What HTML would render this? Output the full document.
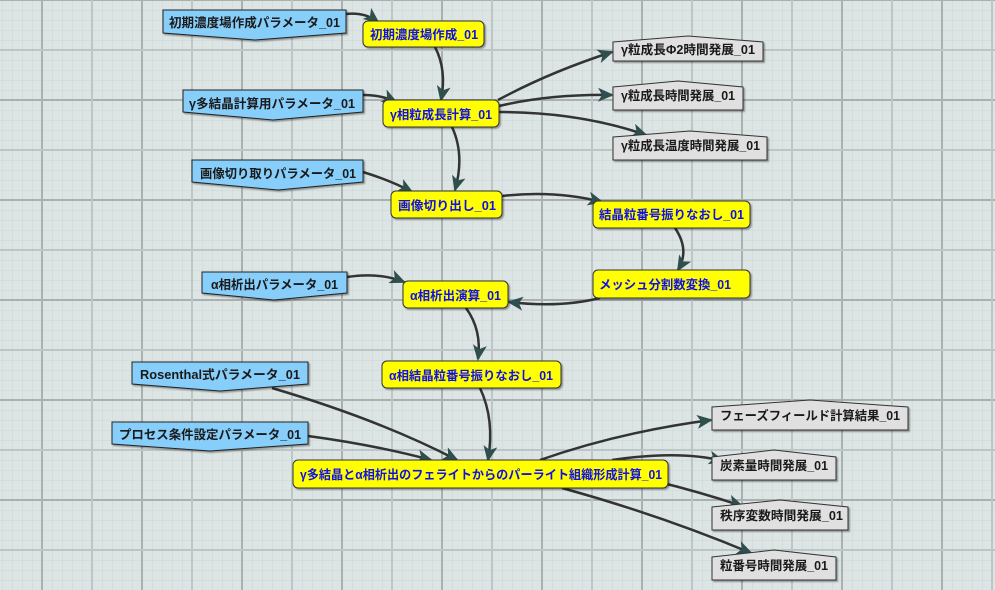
<!DOCTYPE html>
<html><head><meta charset="utf-8"><style>
html,body{margin:0;padding:0;width:995px;height:590px;overflow:hidden;background:#dce4e4}
svg{display:block}
text{font-family:"Liberation Sans","Noto Sans CJK JP",sans-serif;font-weight:bold;font-size:12.5px}
.p{fill:#87cefa;stroke:#222;stroke-width:1}
.y{fill:#ffff00;stroke:#333;stroke-width:1}
.g{fill:#e0e0e0;stroke:#333;stroke-width:1}
.tb{fill:#1a1a1a}
.ty{fill:#1010e8}
.e{fill:none;stroke:#333;stroke-width:2.5}
</style></head><body>
<svg width="995" height="590" viewBox="0 0 995 590" xmlns="http://www.w3.org/2000/svg">
<defs>
<pattern id="minor" width="10" height="10" patternUnits="userSpaceOnUse" x="2" y="0">
<path d="M0 0V10M0 0H10" stroke="#cbd6d6" stroke-width="1" fill="none"/>
</pattern>
<marker id="a" viewBox="0 0 16 14" refX="14" refY="7" markerWidth="16" markerHeight="14" markerUnits="userSpaceOnUse" orient="auto">
<path d="M0 0 L16 7 L0 14 L4 7 Z" fill="#2f4f4f"/>
</marker>
<filter id="sh" x="-5%" y="-20%" width="110%" height="150%"><feDropShadow dx="1.5" dy="1.5" stdDeviation="0.8" flood-color="#000" flood-opacity="0.35"/></filter>
</defs>
<rect width="995" height="590" fill="#dce4e4"/>
<rect width="995" height="590" fill="url(#minor)"/>
<g stroke-width="2">
<g stroke="#a8b0b0">
<line x1="42" y1="0" x2="42" y2="590"/><line x1="142" y1="0" x2="142" y2="590"/><line x1="242" y1="0" x2="242" y2="590"/><line x1="342" y1="0" x2="342" y2="590"/><line x1="442" y1="0" x2="442" y2="590"/><line x1="542" y1="0" x2="542" y2="590"/><line x1="642" y1="0" x2="642" y2="590"/><line x1="742" y1="0" x2="742" y2="590"/><line x1="842" y1="0" x2="842" y2="590"/><line x1="942" y1="0" x2="942" y2="590"/>
<line x1="0" y1="0" x2="995" y2="0"/><line x1="0" y1="100" x2="995" y2="100"/><line x1="0" y1="200" x2="995" y2="200"/><line x1="0" y1="300" x2="995" y2="300"/><line x1="0" y1="400" x2="995" y2="400"/><line x1="0" y1="500" x2="995" y2="500"/>
</g>
<g stroke="#bcc6c6">
<line x1="92" y1="0" x2="92" y2="590"/><line x1="192" y1="0" x2="192" y2="590"/><line x1="292" y1="0" x2="292" y2="590"/><line x1="392" y1="0" x2="392" y2="590"/><line x1="492" y1="0" x2="492" y2="590"/><line x1="592" y1="0" x2="592" y2="590"/><line x1="692" y1="0" x2="692" y2="590"/><line x1="792" y1="0" x2="792" y2="590"/><line x1="892" y1="0" x2="892" y2="590"/><line x1="992" y1="0" x2="992" y2="590"/>
<line x1="0" y1="50" x2="995" y2="50"/><line x1="0" y1="150" x2="995" y2="150"/><line x1="0" y1="250" x2="995" y2="250"/><line x1="0" y1="350" x2="995" y2="350"/><line x1="0" y1="450" x2="995" y2="450"/><line x1="0" y1="550" x2="995" y2="550"/>
</g>
</g>

<g class="e" marker-end="url(#a)">
<path d="M346 14 Q365 12 378 22"/>
<path d="M435 47 Q447 70 441 100"/>
<path d="M363 95 Q382 95 396 102"/>
<path d="M498 100 Q550 72 612 52"/>
<path d="M499 106 Q550 94 612 95"/>
<path d="M499 112 Q580 112 646 135"/>
<path d="M452 127 Q465 155 455 190"/>
<path d="M363 172 Q392 181 412 192"/>
<path d="M502 196 Q555 190 602 202"/>
<path d="M675 228 Q690 250 678 270"/>
<path d="M600 298 Q560 308 509 302"/>
<path d="M347 277 Q380 272 404 282"/>
<path d="M466 308 Q482 330 478 359"/>
<path d="M480 388 Q495 420 488 460"/>
<path d="M272 388 Q380 420 457 460"/>
<path d="M308 436 Q375 445 431 460"/>
<path d="M540 460 Q620 432 711 420"/>
<path d="M612 460 Q680 450 723 461"/>
<path d="M655 481 Q700 492 742 506"/>
<path d="M562 488 Q660 515 751 553"/>
</g>

<g filter="url(#sh)">
<path class="p" d="M163 10H346V33L255 40L163 33Z"/>
<path class="p" d="M183 90H363V112L273 120L183 112Z"/>
<path class="p" d="M192 160H363V182L278 190L192 182Z"/>
<path class="p" d="M202 272H347V293L274 300L202 293Z"/>
<path class="p" d="M132 362H308V384L220 391L132 384Z"/>
<path class="p" d="M112 422H308V444L210 451L112 444Z"/>
</g>
<g lengthAdjust="spacingAndGlyphs">
<text class="tb" x="169" y="27" textLength="171" lengthAdjust="spacingAndGlyphs">初期濃度場作成パラメータ_01</text>
<text class="tb" x="189" y="108" textLength="166" lengthAdjust="spacingAndGlyphs">γ多結晶計算用パラメータ_01</text>
<text class="tb" x="200" y="178" textLength="156" lengthAdjust="spacingAndGlyphs">画像切り取りパラメータ_01</text>
<text class="tb" x="211" y="289" textLength="127" lengthAdjust="spacingAndGlyphs">α相析出パラメータ_01</text>
<text class="tb" x="140" y="379" textLength="160" lengthAdjust="spacingAndGlyphs">Rosenthal式パラメータ_01</text>
<text class="tb" x="119" y="439" textLength="182" lengthAdjust="spacingAndGlyphs">プロセス条件設定パラメータ_01</text>
</g>

<g filter="url(#sh)">
<rect class="y" x="363" y="21" width="121" height="26" rx="5"/>
<rect class="y" x="383" y="100" width="116" height="27" rx="5"/>
<rect class="y" x="391" y="191" width="111" height="27" rx="5"/>
<rect class="y" x="593" y="201" width="157" height="27" rx="5"/>
<rect class="y" x="593" y="270" width="157" height="28" rx="5"/>
<rect class="y" x="403" y="281" width="105" height="27" rx="5"/>
<rect class="y" x="382" y="361" width="179" height="27" rx="5"/>
<rect class="y" x="293" y="460" width="375" height="28" rx="5"/>
</g>
<text class="ty" x="370" y="39" textLength="108" lengthAdjust="spacingAndGlyphs">初期濃度場作成_01</text>
<text class="ty" x="390" y="119" textLength="102" lengthAdjust="spacingAndGlyphs">γ相粒成長計算_01</text>
<text class="ty" x="398" y="210" textLength="98" lengthAdjust="spacingAndGlyphs">画像切り出し_01</text>
<text class="ty" x="599" y="219" textLength="145" lengthAdjust="spacingAndGlyphs">結晶粒番号振りなおし_01</text>
<text class="ty" x="599" y="289" textLength="132" lengthAdjust="spacingAndGlyphs">メッシュ分割数変換_01</text>
<text class="ty" x="410" y="300" textLength="91" lengthAdjust="spacingAndGlyphs">α相析出演算_01</text>
<text class="ty" x="389" y="380" textLength="164" lengthAdjust="spacingAndGlyphs">α相結晶粒番号振りなおし_01</text>
<text class="ty" x="300" y="479" textLength="362" lengthAdjust="spacingAndGlyphs">γ多結晶とα相析出のフェライトからのパーライト組織形成計算_01</text>

<g filter="url(#sh)">
<path class="g" d="M613 42L688 36L763 42V61H613Z"/>
<path class="g" d="M613 87L678 81L743 87V110H613Z"/>
<path class="g" d="M613 137L690 131L767 137V160H613Z"/>
<path class="g" d="M712 407L810 400L908 407V430H712Z"/>
<path class="g" d="M712 457L774 450L836 457V480H712Z"/>
<path class="g" d="M712 507L780 500L848 507V530H712Z"/>
<path class="g" d="M712 557L774 550L836 557V580H712Z"/>
</g>
<text class="tb" x="621" y="54" textLength="134" lengthAdjust="spacingAndGlyphs">γ粒成長Φ2時間発展_01</text>
<text class="tb" x="621" y="100" textLength="114" lengthAdjust="spacingAndGlyphs">γ粒成長時間発展_01</text>
<text class="tb" x="621" y="150" textLength="139" lengthAdjust="spacingAndGlyphs">γ粒成長温度時間発展_01</text>
<text class="tb" x="720" y="420" textLength="180" lengthAdjust="spacingAndGlyphs">フェーズフィールド計算結果_01</text>
<text class="tb" x="720" y="470" textLength="108" lengthAdjust="spacingAndGlyphs">炭素量時間発展_01</text>
<text class="tb" x="720" y="520" textLength="123" lengthAdjust="spacingAndGlyphs">秩序変数時間発展_01</text>
<text class="tb" x="720" y="570" textLength="108" lengthAdjust="spacingAndGlyphs">粒番号時間発展_01</text>
</svg>
</body></html>
